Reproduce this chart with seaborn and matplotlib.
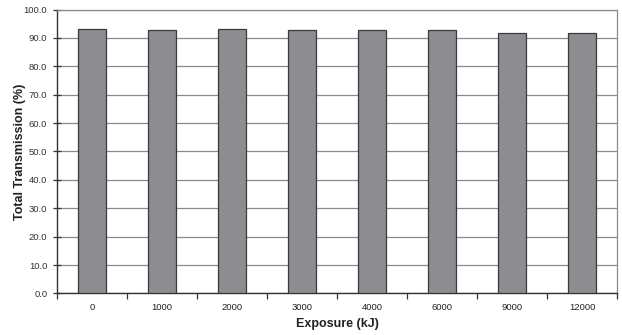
import matplotlib
matplotlib.use("Agg")
import matplotlib.pyplot as plt
from matplotlib.ticker import MultipleLocator, FixedLocator
import seaborn as sns
import pandas as pd

exposure = ["0", "1000", "2000", "3000", "4000", "6000", "9000", "12000"]
transmission = [93.2, 92.7, 93.1, 92.7, 92.9, 92.7, 91.8, 91.8]

df = pd.DataFrame({"Exposure (kJ)": exposure, "Total Transmission (%)": transmission})

sns.set_theme(style="white")
plt.rcParams["font.family"] = ["Liberation Sans", "DejaVu Sans"]

fig = plt.figure(figsize=(6.22, 3.35), dpi=100)
ax = fig.add_axes([0.0916, 0.124, 0.9004, 0.8476])

sns.barplot(data=df, x="Exposure (kJ)", y="Total Transmission (%)", order=exposure,
            color="#8d8c91", saturation=1, width=0.4, edgecolor="#3a3a3a",
            linewidth=0.9, ax=ax, zorder=3)

ax.set_ylim(0, 100)
ax.set_xlim(-0.5, len(exposure) - 0.5)
ax.yaxis.set_major_locator(MultipleLocator(10))
ax.set_yticklabels([f"{v:.1f}" for v in ax.get_yticks()])
ax.grid(axis="y", color="#8a8a8a", linewidth=0.9, zorder=0)
ax.grid(axis="x", visible=False)

# category separators as small ticks below the axis
ax.xaxis.set_minor_locator(FixedLocator([i - 0.5 for i in range(len(exposure) + 1)]))
ax.tick_params(axis="x", which="major", length=0, labelsize=6.8, pad=7, colors="#222222")
ax.tick_params(axis="x", which="minor", length=4, width=0.9, direction="out",
               color="#333333", bottom=True)
ax.tick_params(axis="y", which="major", length=6, width=0.9, direction="inout",
               labelsize=6.8, colors="#222222", left=True, pad=4)
ax.tick_params(axis="y", colors="#333333")

for side in ["left", "bottom"]:
    ax.spines[side].set_color("#333333")
    ax.spines[side].set_linewidth(1.0)
for side in ["top", "right"]:
    ax.spines[side].set_color("#8a8a8a")
    ax.spines[side].set_linewidth(0.9)
    ax.spines[side].set_visible(True)

ax.set_xlabel("Exposure (kJ)", fontsize=9, fontweight="bold", color="#222222")
ax.set_ylabel("Total Transmission (%)", fontsize=9, fontweight="bold", color="#222222")
ax.xaxis.set_label_coords(0.5, -0.108)
ax.yaxis.set_label_coords(-0.066, 0.5)
ax.xaxis.label.set_va("center")
ax.yaxis.label.set_va("center")

fig.savefig("out.png", dpi=100, facecolor="white")
